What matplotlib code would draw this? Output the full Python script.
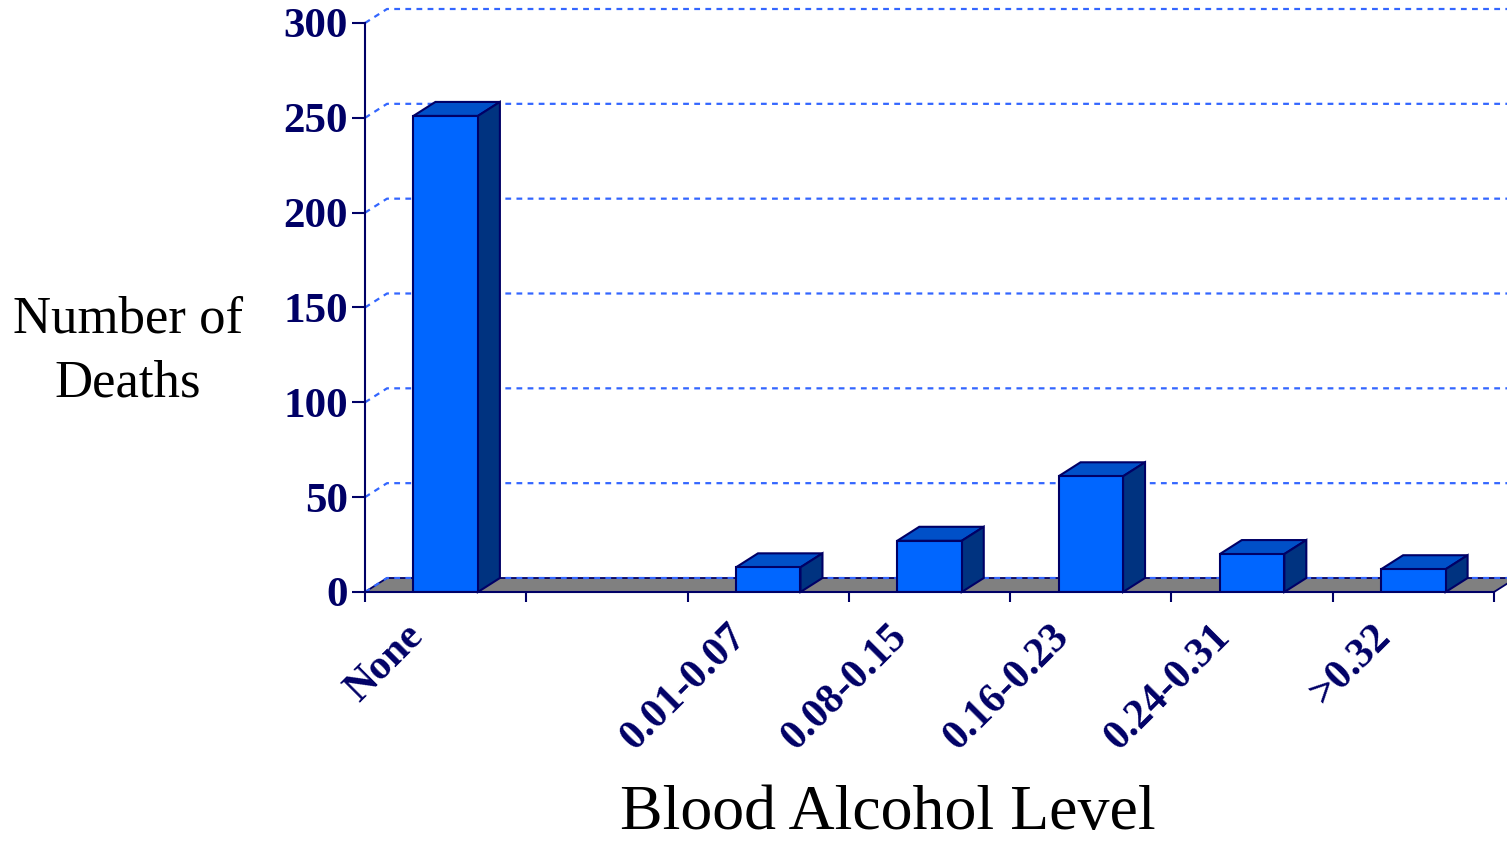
import matplotlib.pyplot as plt
import numpy as np
from matplotlib.patches import Polygon

categories = ["None", "", "0.01-0.07", "0.08-0.15", "0.16-0.23", "0.24-0.31", ">0.32"]
deaths = [251, np.nan, 13, 27, 61, 20, 12]
y_ticks = [0, 50, 100, 150, 200, 250, 300]

navy = "#000066"
face_front = "#0066FF"
face_top = "#0050C8"
face_side = "#003380"
grid_blue = "#3366FF"
floor_grey = "#808080"
serif = "Liberation Serif"

W, H = 1507, 843
fig = plt.figure(figsize=(W / 100, H / 100), dpi=100)
ax = fig.add_axes([365 / W, 1 - 592 / H, (1494 - 365) / W, (592 - 23) / H])

n = len(categories)
ax.set_xlim(-0.5, n - 0.5)
ax.set_ylim(0, 300)

# depth of the fake 3-D effect (22 px right, 14 px up) in data units
dx = 22 / ((1494 - 365) / n)
dy = 14 / ((592 - 23) / 300)

# floor
floor = Polygon([(-0.5, 0), (n - 0.5, 0), (n - 0.5 + dx, dy), (-0.5 + dx, dy)],
                closed=True, facecolor=floor_grey, edgecolor=navy, lw=1.3,
                clip_on=False, zorder=1)
ax.add_patch(floor)

# gridlines on the back wall, with the short diagonal from the axis
for v in y_ticks:
    ax.plot([-0.5, -0.5 + dx, n + 1], [v, v + dy, v + dy], color=grid_blue,
            lw=1.6, dashes=(2.6, 2.4), clip_on=False, zorder=1.5)

# bars: front face, then top and side faces
w = 0.4
xs = np.arange(n)
vals = np.array(deaths, dtype=float)
has = ~np.isnan(vals)
ax.bar(xs[has], vals[has], width=w, color=face_front, edgecolor=navy,
       linewidth=1.5, zorder=4)
for x, v in zip(xs[has], vals[has]):
    top = Polygon([(x - w / 2, v), (x + w / 2, v), (x + w / 2 + dx, v + dy),
                   (x - w / 2 + dx, v + dy)], closed=True, facecolor=face_top,
                  edgecolor=navy, lw=1.5, clip_on=False, zorder=3)
    side = Polygon([(x + w / 2, 0), (x + w / 2 + dx, dy), (x + w / 2 + dx, v + dy),
                    (x + w / 2, v)], closed=True, facecolor=face_side,
                   edgecolor=navy, lw=1.5, clip_on=False, zorder=3)
    ax.add_patch(top)
    ax.add_patch(side)

# axes
for s in ["top", "right"]:
    ax.spines[s].set_visible(False)
for s in ["left", "bottom"]:
    ax.spines[s].set_color(navy)
    ax.spines[s].set_linewidth(1.5)
    ax.spines[s].set_zorder(5)

ax.set_yticks(y_ticks)
ax.set_yticklabels([str(t) for t in y_ticks], fontsize=31, fontweight="bold",
                   family=serif, color=navy)
ax.tick_params(axis="y", direction="out", length=9.5, width=1.5, color=navy, pad=3)

ax.set_xticks(np.arange(-0.5, n, 1.0))
ax.set_xticklabels([])
ax.tick_params(axis="x", direction="out", length=7.5, width=1.5, color=navy)

for i, lab in enumerate(categories):
    ax.annotate(lab, xy=(i, 0), xycoords="data", xytext=(-20, -28),
                textcoords="offset points", rotation=45, ha="right", va="center",
                rotation_mode="anchor", fontsize=30, fontweight="bold",
                family=serif, color=navy)

fig.text(128 / W, 1 - 333 / H, "Number of", ha="center", va="baseline",
         fontsize=38, family=serif, color="black")
fig.text(128 / W, 1 - 397 / H, "Deaths", ha="center", va="baseline",
         fontsize=38, family=serif, color="black")
fig.text(888 / W, 1 - 829 / H, "Blood Alcohol Level", ha="center", va="baseline",
         fontsize=46, family=serif, color="black")

fig.savefig("out.png", dpi=100)
